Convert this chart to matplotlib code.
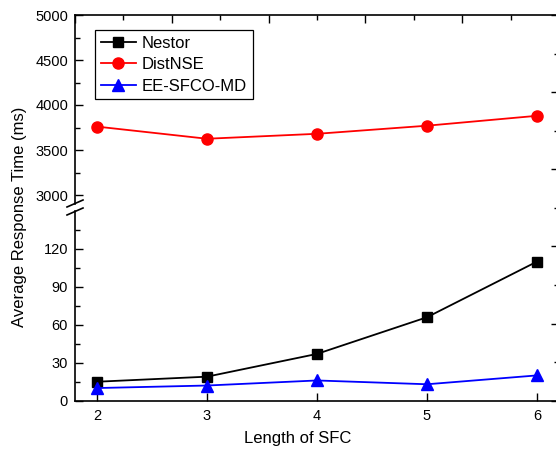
import matplotlib
matplotlib.use('Agg')
import matplotlib.pyplot as plt
from matplotlib.lines import Line2D

plt.rcParams['font.family'] = ['Liberation Sans', 'DejaVu Sans']

# data
sfc_len = [2, 3, 4, 5, 6]
nestor = [15, 19, 37, 66, 110]
distnse = [3760, 3625, 3680, 3770, 3880]
eesfco = [10, 12, 16, 13, 20]

W, H = 556, 450
fig = plt.figure(figsize=(W / 100, H / 100), dpi=100)


def px(x0, y_top, x1, y_bot):
    # pixel box -> figure fraction rect
    return [x0 / W, 1 - y_bot / H, (x1 - x0) / W, (y_bot - y_top) / H]


ax_top = fig.add_axes(px(75, 15, 559, 204))
ax_bot = fig.add_axes(px(75, 211, 559, 400.7))
ax_frame = fig.add_axes(px(75, 15, 559, 400.7), facecolor='none')

lw = 1.3
# bottom panel: Nestor and EE-SFCO-MD
ax_bot.plot(sfc_len, nestor, color='black', marker='s', ms=7, lw=lw, label='Nestor')
ax_bot.plot(sfc_len, eesfco, color='blue', marker='^', ms=8, lw=lw, label='EE-SFCO-MD')
# top panel: DistNSE
ax_top.plot(sfc_len, distnse, color='red', marker='o', ms=8, lw=lw, label='DistNSE')

for ax in (ax_top, ax_bot):
    ax.set_xlim(1.8, 6.2)
    ax.set_facecolor('none')
    for s in ax.spines.values():
        s.set_linewidth(1.2)
    ax.spines['right'].set_visible(False)
    ax.tick_params(which='both', direction='in', labelsize=10.5, width=1.0)
    ax.tick_params(which='major', length=6)
    ax.tick_params(which='minor', length=3.5)
    ax.tick_params(axis='y', pad=5)

ax_top.set_ylim(2900, 5000)
ax_top.set_yticks([3000, 3500, 4000, 4500, 5000])
ax_top.set_yticks([3250, 3750, 4250, 4750], minor=True)
ax_top.spines['bottom'].set_visible(False)
ax_top.spines['top'].set_visible(False)
ax_top.tick_params(axis='x', which='both', bottom=False, labelbottom=False)

ax_bot.set_ylim(0, 150)
ax_bot.set_yticks([0, 30, 60, 90, 120])
ax_bot.set_yticks([15, 45, 75, 105, 135], minor=True)
ax_bot.spines['top'].set_visible(False)
ax_bot.set_xticks(sfc_len)
ax_bot.tick_params(axis='x', pad=6)

# mirrored top/right frame with its own unlabeled ticks (as in Origin)
ax_frame.set_xlim(0, 10)
ax_frame.set_ylim(0, 10)
ax_frame.set_xticks(range(0, 11, 2))
ax_frame.set_xticks(range(1, 11, 2), minor=True)
ax_frame.set_yticks(range(0, 11, 2))
ax_frame.set_yticks(range(1, 11, 2), minor=True)
ax_frame.spines['left'].set_visible(False)
ax_frame.spines['bottom'].set_visible(False)
for s in ('top', 'right'):
    ax_frame.spines[s].set_linewidth(1.2)
ax_frame.tick_params(which='both', direction='in', top=True, right=True,
                     bottom=False, left=False, labelbottom=False, labelleft=False,
                     width=1.0)
ax_frame.tick_params(which='major', length=6)
ax_frame.tick_params(which='minor', length=3.5)

# axis break marks on the left spine
for yb in (203.5, 211.5):
    fig.add_artist(Line2D([67 / W, 83 / W], [1 - (yb + 3.5) / H, 1 - (yb - 3.5) / H],
                          color='black', lw=1.2))

# legend
handles = [
    Line2D([], [], color='black', marker='s', ms=7, lw=lw),
    Line2D([], [], color='red', marker='o', ms=8, lw=lw),
    Line2D([], [], color='blue', marker='^', ms=8, lw=lw),
]
leg = ax_top.legend(handles, ['Nestor', 'DistNSE', 'EE-SFCO-MD'],
                    loc='upper left', bbox_to_anchor=(20 / 484, 1 - 15 / 189),
                    fontsize=12, frameon=True, fancybox=False, framealpha=1,
                    edgecolor='black', handlelength=2.1, handletextpad=0.35,
                    borderpad=0.35, labelspacing=0.38, borderaxespad=0)
leg.get_frame().set_linewidth(0.9)

fig.text(20 / W, 1 - 217 / H, 'Average Response Time (ms)', rotation=90,
         ha='center', va='center', fontsize=12)
fig.text(298 / W, 1 - 438 / H, 'Length of SFC', ha='center', va='center', fontsize=12)

fig.savefig('out.png', dpi=100)
